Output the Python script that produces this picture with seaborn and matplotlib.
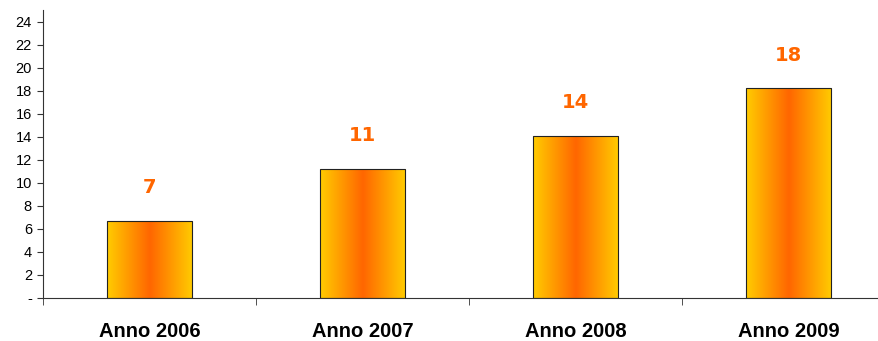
import numpy as np
import matplotlib
matplotlib.use("Agg")
import matplotlib.pyplot as plt
from matplotlib.colors import LinearSegmentedColormap
import seaborn as sns

years = ["Anno 2006", "Anno 2007", "Anno 2008", "Anno 2009"]
values = [6.7, 11.2, 14.1, 18.2]
labels = ["7", "11", "14", "18"]

sns.set_style("white")
plt.rcParams["font.family"] = ["Liberation Sans", "DejaVu Sans"]

fig = plt.figure(figsize=(8.79, 3.41), dpi=100)
ax = fig.add_axes([43 / 879, 43 / 341, 836 / 879, 288 / 341])

sns.barplot(x=years, y=values, ax=ax, width=0.4, color="#ffcc00",
            edgecolor="#222222", linewidth=0.8)

# horizontal gradient yellow -> orange -> yellow inside each bar
cmap = LinearSegmentedColormap.from_list("bar", ["#ffcc00", "#ff6600", "#ffcc00"])
grad = np.linspace(0, 1, 256).reshape(1, -1)
for patch in ax.patches:
    x0, y0 = patch.get_x(), patch.get_y()
    w, h = patch.get_width(), patch.get_height()
    im = ax.imshow(grad, cmap=cmap, aspect="auto", extent=[x0, x0 + w, y0, y0 + h],
                   zorder=patch.get_zorder() - 0.1)
    im.set_clip_path(patch)
    patch.set_facecolor("none")
    patch.set_zorder(3)

for i, (v, lab) in enumerate(zip(values, labels)):
    ax.annotate(lab, (i, v), xytext=(0, 17), textcoords="offset points",
                ha="center", va="bottom", color="#ff6600", fontsize=14,
                fontweight="bold", family="DejaVu Sans")

ax.set_xlim(-0.5, -0.5 + 836 / 213)
ax.set_ylim(0, 25)
ax.set_yticks(range(0, 25, 2))
ax.set_yticklabels(["-"] + [str(t) for t in range(2, 25, 2)], fontsize=10.5, color="black")
ax.set_xticks(range(len(years)))
ax.set_xticklabels(years, fontsize=14.5, fontweight="bold", color="black")
ax.tick_params(axis="x", which="major", length=0, pad=17)
ax.set_xticks([-0.5, 0.5, 1.5, 2.5], minor=True)
ax.tick_params(axis="x", which="minor", bottom=True, length=5, direction="out", color="#333333")
ax.tick_params(axis="y", left=True, length=4, direction="out", color="#333333", pad=4)
ax.spines["top"].set_visible(False)
ax.spines["right"].set_visible(False)
for s in ["left", "bottom"]:
    ax.spines[s].set_color("#333333")
    ax.spines[s].set_linewidth(0.8)
ax.spines["left"].set_bounds(0, 25)

fig.savefig("out.png", dpi=100)
